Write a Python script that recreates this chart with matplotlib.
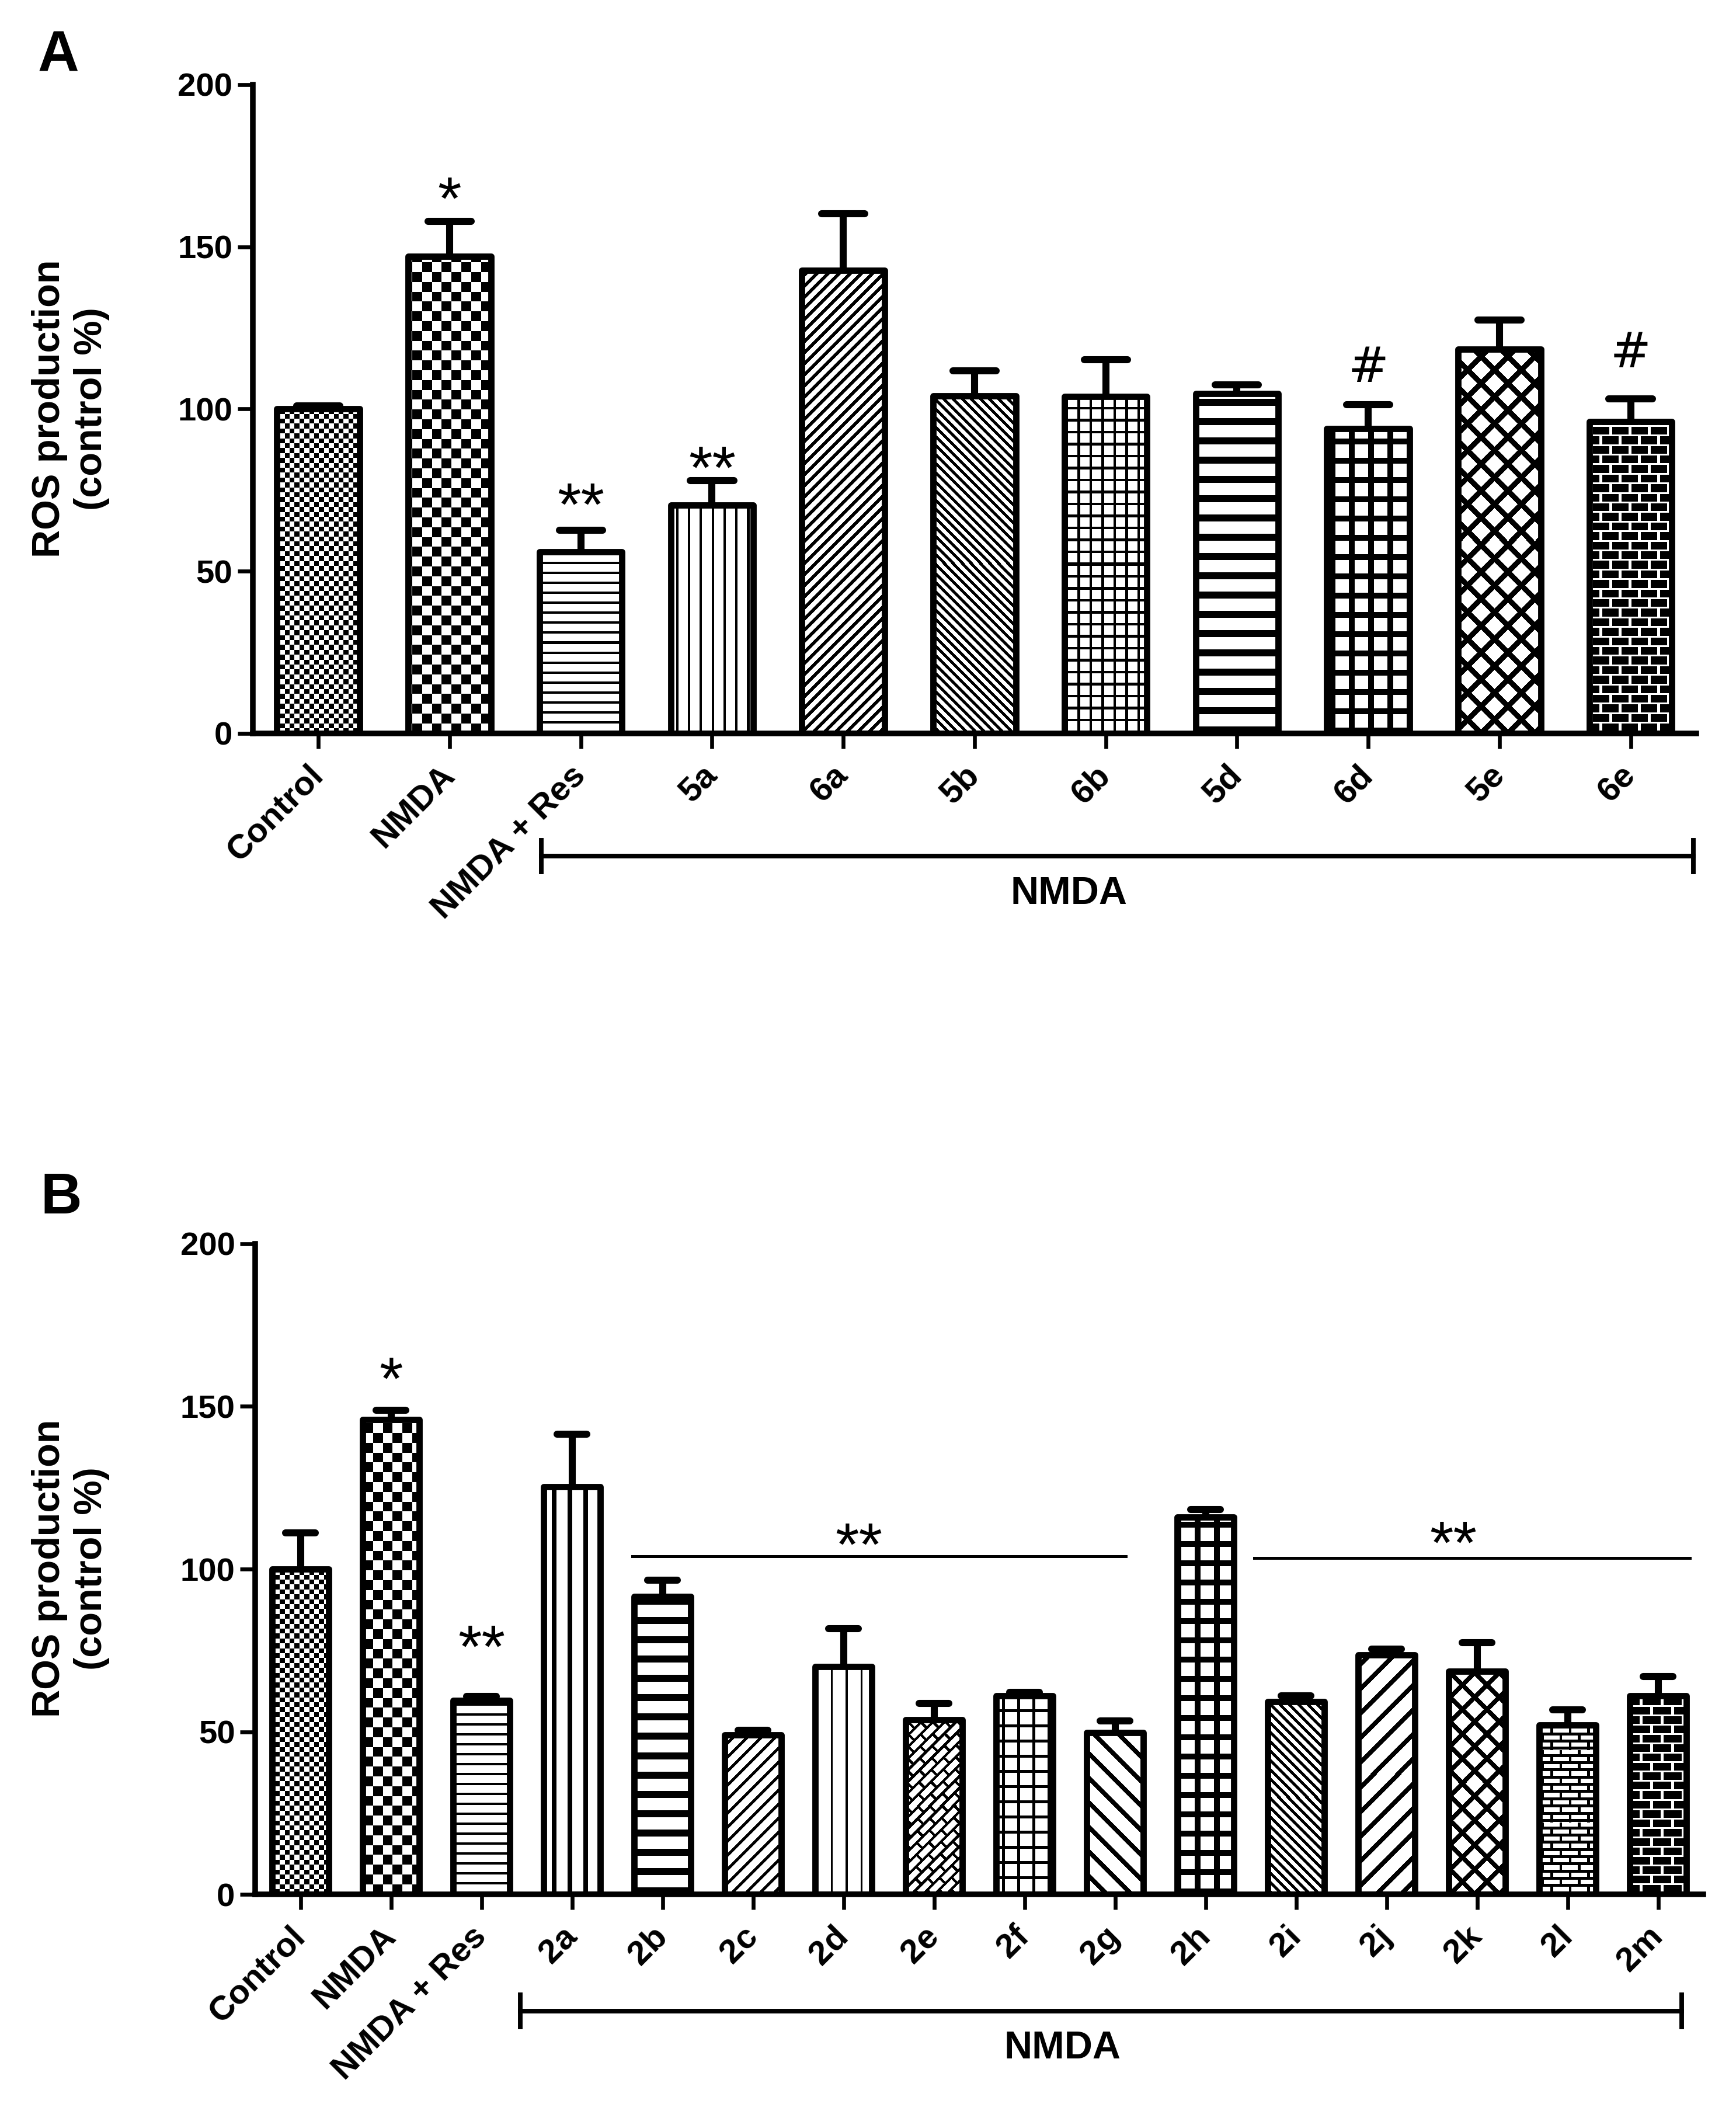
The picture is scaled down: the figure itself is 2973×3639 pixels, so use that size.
import numpy as np
import matplotlib
matplotlib.use("Agg")
import matplotlib.pyplot as plt

plt.rcParams['font.family'] = ['Liberation Sans', 'DejaVu Sans']

# panel A data (ROS production, % of control)
labels_a = ['Control', 'NMDA', 'NMDA + Res', '5a', '6a', '5b', '6b', '5d', '6d', '5e', '6e']
ros_a = [100, 147, 56, 70.4, 142.7, 104.1, 103.9, 104.7, 93.9, 118.5, 96.1]
sem_a = [1.0, 10.8, 6.7, 7.6, 17.4, 7.6, 11.2, 2.8, 7.5, 9.0, 7.0]

# panel B data
labels_b = ['Control', 'NMDA', 'NMDA + Res', '2a', '2b', '2c', '2d', '2e', '2f',
            '2g', '2h', '2i', '2j', '2k', '2l', '2m']
ros_b = [100, 145.9, 59.7, 125.4, 91.6, 49, 70.1, 53.7, 61, 49.7, 116, 59.3, 73.6, 68.6, 52.1, 61.1]
sem_b = [11.1, 3.0, 1.2, 16.0, 5.0, 1.4, 11.6, 5.0, 1.1, 3.7, 2.3, 1.8, 1.8, 8.8, 4.6, 5.8]


# fill patterns, in output pixels (True = black)
def checker(s):
    return lambda X, Y: (np.floor(X / s) + np.floor(Y / s)) % 2 == 0

def hlines(p, t):
    return lambda X, Y: (Y % p) < t

def vlines(p, t):
    return lambda X, Y: (X % p) < t

def diag_up(p, t):
    return lambda X, Y: ((X - Y) % p) < t

def diag_dn(p, t):
    return lambda X, Y: ((X + Y) % p) < t

def grid(p, t):
    return lambda X, Y: ((X % p) < t) | ((Y % p) < t)

def diamond(p, t):
    return lambda X, Y: (((X - Y) % p) < t) | (((X + Y) % p) < t)

def bricks(bw, bh, mh, mv, dark):
    def f(X, Y):
        row = np.floor(Y / bh)
        xx = (X + (row % 2) * bw / 2) % bw
        mortar = ((Y % bh) < mh) | (xx < mv)
        return ~mortar if dark else mortar
    return f

def diag_bricks(bw, bh, m):
    def f(X, Y):
        U = (X + Y) / np.sqrt(2)
        V = (Y - X) / np.sqrt(2)
        row = np.floor(V / bh)
        uu = (U + (row % 2) * bw / 2) % bw
        return ((V % bh) < m) | (uu < m)
    return f

fills_a = [checker(8.4), checker(16.8), hlines(17, 4), vlines(20.3, 4.2), diag_up(19, 8),
           diag_dn(15.6, 7), grid(20.5, 4.5), hlines(33, 12), grid(33, 10), diamond(46, 13),
           bricks(33, 16.4, 3, 5, True)]
fills_b = [checker(8.4), checker(16.8), hlines(17, 4), vlines(27, 8), hlines(33, 12),
           diag_up(24, 7), vlines(25.4, 3.6), diag_bricks(30, 14, 4.5), grid(26, 5),
           diag_dn(42, 11), grid(33, 10), diag_dn(16, 7), diag_up(42, 11), diamond(42, 11),
           bricks(31.6, 12.3, 5, 4.6, False), bricks(36, 16, 2.7, 4.6, True)]


def draw_panel(ax, labels, means, errs, fills):
    n = len(labels)
    x = np.arange(n)
    means = np.array(means)
    errs = np.array(errs)
    ax.set_xlim(-0.5, n - 0.5)
    ax.set_ylim(0, 200)

    bars = ax.bar(x, means, width=0.63, facecolor='none', edgecolor='black',
                  linewidth=2.6, joinstyle='round', zorder=3)
    for rect, fill in zip(bars, fills):
        x0, w, h = rect.get_x(), rect.get_width(), rect.get_height()
        (px0, py0), (px1, py1) = ax.transData.transform([(x0, 0), (x0 + w, h)])
        nx, ny = int(round(px1 - px0)), int(round(py1 - py0))
        X, Y = np.meshgrid(np.arange(nx) + int(round(px0)), np.arange(ny))
        ax.imshow(fill(X, Y).astype(float), extent=(x0, x0 + w, 0, h), origin='lower',
                  cmap='gray_r', vmin=0, vmax=1, interpolation='nearest',
                  aspect='auto', zorder=2)

    ax.vlines(x, means, means + errs, color='black', lw=2.9, zorder=2.5)
    ax.hlines(means + errs, x - 0.165, x + 0.165, color='black', lw=2.9,
              capstyle='round', zorder=2.5)

    ax.set_xlim(-0.5, n - 0.5)
    ax.set_ylim(0, 200)
    ax.spines[['top', 'right']].set_visible(False)
    for s in ['left', 'bottom']:
        ax.spines[s].set_linewidth(2.3)
        ax.spines[s].set_zorder(4)
    ax.set_yticks([0, 50, 100, 150, 200], labels=['0', '50', '100', '150', '200'],
                  fontsize=13.5, fontweight='bold')
    ax.set_xticks(x, labels, rotation=45, ha='right', va='center',
                  rotation_mode='anchor', fontsize=14, fontweight='bold')
    ax.tick_params(axis='both', width=1.6, length=6.3, direction='out')
    ax.tick_params(axis='y', pad=2)
    ax.tick_params(axis='x', pad=9)


def bracket(ax, x0, x1, y, dy, tx, ty):
    ax.plot([x0, x1], [y, y], color='black', lw=1.9, clip_on=False)
    ax.plot([x0, x0], [y - dy, y + dy], color='black', lw=1.9, clip_on=False)
    ax.plot([x1, x1], [y - dy, y + dy], color='black', lw=1.9, clip_on=False)
    ax.text(tx, ty, 'NMDA', ha='center', va='center', fontsize=16,
            fontweight='bold', clip_on=False)


def star(ax, x, y, s):
    ax.text(x, y, s, ha='center', va='baseline', fontsize=25,
            family='Liberation Sans')


fig = plt.figure(figsize=(2973 / 300, 3639 / 300), dpi=300)
ax_a = fig.add_axes([0.1456, 0.6549, 0.8315, 0.3053])
ax_b = fig.add_axes([0.1470, 0.1085, 0.8342, 0.3062])

draw_panel(ax_a, labels_a, ros_a, sem_a, fills_a)
draw_panel(ax_b, labels_b, ros_b, sem_b, fills_b)

# panel A marks
star(ax_a, 1, 158.5, '*')
star(ax_a, 2, 64.1, '**')
star(ax_a, 3, 75.5, '**')
ax_a.text(8, 108.4, '#', ha='center', va='baseline', fontsize=20, family='DejaVu Sans')
ax_a.text(10, 112.9, '#', ha='center', va='baseline', fontsize=20, family='DejaVu Sans')
bracket(ax_a, 1.7, 10.48, -37.8, 4.9, 5.72, -49.5)

# panel B marks
star(ax_b, 1, 152.2, '*')
star(ax_b, 2, 69.7, '**')
ax_b.plot([3.67, 9.12], [104, 104], color='black', lw=1.2)
ax_b.plot([10.54, 15.35], [103.4, 103.4], color='black', lw=1.2)
star(ax_b, 6.17, 101.1, '**')
star(ax_b, 12.74, 101.8, '**')
bracket(ax_b, 2.43, 15.26, -35.8, 4.9, 8.42, -47.3)

for yc in [0.8076, 0.2619]:
    fig.text(0.0407, yc, 'ROS production\n(control %)', rotation=90, ha='center',
             va='center', multialignment='center', fontsize=16, fontweight='bold')

fig.text(65 / 2973, 1 - 50 / 3639, 'A', ha='left', va='top', fontsize=23.5, fontweight='bold')
fig.text(70 / 2973, 1 - 2007 / 3639, 'B', ha='left', va='top', fontsize=23.5, fontweight='bold')

fig.savefig('out.png', dpi=300, facecolor='white')
